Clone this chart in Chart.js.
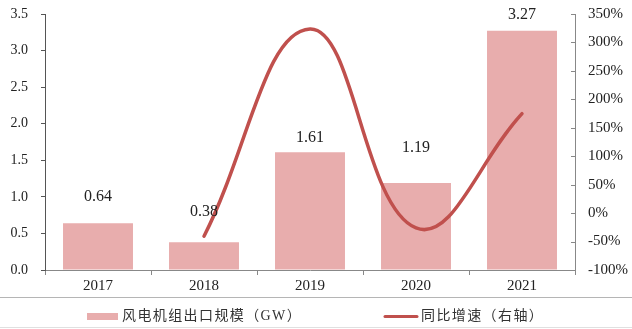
<!DOCTYPE html>
<html>
<head>
<meta charset="utf-8">
<script src="https://cdn.jsdelivr.net/npm/chart.js@4.4.1/dist/chart.umd.min.js"></script>
<style>
  html, body { margin: 0; padding: 0; background: #fff; }
  canvas { display: block; }
</style>
</head>
<body>
<canvas id="windChart" width="632" height="329"></canvas>
<script>
// Wind turbine exports and year-on-year growth
const years = ['2017', '2018', '2019', '2020', '2021'];
const exportGW = [0.64, 0.38, 1.61, 1.19, 3.27];
const yoyGrowth = [null, -40.6, 323.7, -26.1, 174.8];

const barName = '风电机组出口规模（GW）';
const lineName = '同比增速（右轴）';

// how far each value label sits above its bar (px)
const labelLift = [26, 30, 14, 35, 16];

const barColor = '#e8adad';
const lineColor = '#c0504d';
const serif = '"Liberation Serif", "Noto Sans CJK SC", serif';

// keep the plot box fixed regardless of tick label sizes
function noScalePadding(scale) {
    scale.paddingTop = 0;
    scale.paddingBottom = 0;
}

const extras = {
    id: 'extras',
    afterDatasetsDraw(chart) {
        const ctx = chart.ctx;
        const meta = chart.getDatasetMeta(1);
        ctx.save();
        ctx.fillStyle = '#222';
        ctx.font = '16px ' + serif;
        ctx.textAlign = 'center';
        ctx.textBaseline = 'middle';
        meta.data.forEach((bar, i) => {
            ctx.fillText(exportGW[i].toFixed(2), bar.x, bar.y - labelLift[i]);
        });
        ctx.restore();
    },
    afterDraw(chart) {
        const ctx = chart.ctx;
        const area = chart.chartArea;
        const y1 = chart.scales.y1;
        ctx.save();

        // right axis ticks point inward
        ctx.strokeStyle = '#888';
        ctx.lineWidth = 1;
        ctx.beginPath();
        y1.ticks.forEach(t => {
            const py = Math.round(y1.getPixelForValue(t.value)) + 0.5;
            ctx.moveTo(area.right - 4, py);
            ctx.lineTo(area.right, py);
        });
        ctx.stroke();

        // separator above the legend and bottom rule
        ctx.strokeStyle = '#b5b5b5';
        ctx.beginPath();
        ctx.moveTo(0, 297.5);
        ctx.lineTo(632, 297.5);
        ctx.stroke();
        ctx.strokeStyle = '#e0e0e0';
        ctx.beginPath();
        ctx.moveTo(0, 327.5);
        ctx.lineTo(632, 327.5);
        ctx.stroke();

        // legend
        const ly = 316.5;
        ctx.fillStyle = barColor;
        ctx.fillRect(87, ly - 3.5, 31, 7);
        ctx.strokeStyle = lineColor;
        ctx.lineWidth = 3;
        ctx.lineCap = 'round';
        ctx.beginPath();
        ctx.moveTo(385, ly);
        ctx.lineTo(417, ly);
        ctx.stroke();

        ctx.fillStyle = '#333';
        ctx.font = '14px ' + serif;
        ctx.letterSpacing = '1.4px';
        ctx.textAlign = 'left';
        ctx.textBaseline = 'middle';
        ctx.fillText(barName, 122, ly);
        ctx.fillText(lineName, 421, ly);
        ctx.restore();
    }
};

new Chart(document.getElementById('windChart'), {
    type: 'bar',
    data: {
        labels: years,
        datasets: [{
            type: 'line',
            label: lineName,
            data: yoyGrowth,
            yAxisID: 'y1',
            borderColor: lineColor,
            borderWidth: 3.5,
            borderCapStyle: 'round',
            tension: 0.42,
            pointRadius: 0,
            fill: false,
            order: 0
        }, {
            label: barName,
            data: exportGW,
            yAxisID: 'y',
            backgroundColor: barColor,
            barPercentage: 0.66,
            categoryPercentage: 1,
            order: 1
        }]
    },
    options: {
        responsive: false,
        animation: false,
        layout: { padding: { top: 14, left: 0, right: 0, bottom: 0 } },
        plugins: {
            legend: { display: false },
            tooltip: { enabled: false }
        },
        scales: {
            x: {
                grid: { drawOnChartArea: false, tickLength: 5, color: '#888', offset: true },
                border: { color: '#888' },
                ticks: { color: '#222', font: { family: serif, size: 15 }, padding: 2 },
                afterFit(scale) {
                    scale.height = 59;
                    scale.paddingLeft = 0;
                    scale.paddingRight = 0;
                }
            },
            y: {
                position: 'left',
                min: 0,
                max: 3.5,
                grid: { drawOnChartArea: false, tickLength: 4, color: '#555' },
                border: { color: '#555' },
                ticks: {
                    stepSize: 0.5,
                    color: '#222',
                    font: { family: serif, size: 14 },
                    padding: 13,
                    callback: v => v.toFixed(1)
                },
                afterFit(scale) {
                    scale.width = 45;
                    noScalePadding(scale);
                }
            },
            y1: {
                position: 'right',
                min: -100,
                max: 350,
                grid: { drawOnChartArea: false, drawTicks: false },
                border: { color: '#888' },
                ticks: {
                    stepSize: 50,
                    color: '#222',
                    font: { family: serif, size: 15 },
                    padding: 13,
                    callback: v => v + '%'
                },
                afterFit(scale) {
                    scale.width = 57;
                    noScalePadding(scale);
                }
            }
        }
    },
    plugins: [extras]
});
</script>
</body>
</html>
